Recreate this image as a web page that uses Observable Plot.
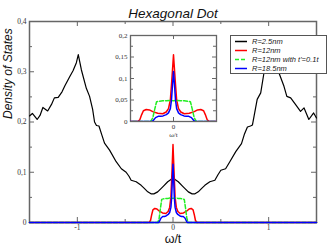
<!DOCTYPE html>
<html><head><meta charset="utf-8">
<script src="https://cdn.jsdelivr.net/npm/d3@7"></script>
<script src="https://cdn.jsdelivr.net/npm/@observablehq/plot@0.6"></script>
<style>
body{margin:0;background:#fff;}
#wrap{position:relative;width:327px;height:246px;overflow:hidden;background:#fff;}
#wrap > div, #wrap > svg{position:absolute;}
#legend{left:230px;top:35px;width:95px;height:37px;border:1px solid #555;background:#fff;font:italic 7.5px "Liberation Sans",Arial,sans-serif;color:#222;}
#legend .row{position:absolute;left:0;height:9px;line-height:9px;white-space:nowrap;}
#legend svg{position:absolute;left:3px;top:0;}
#legend span{position:absolute;left:21px;top:0;}
</style></head>
<body><div id="wrap"></div>
<script>
// ---- data ----
const blackW = [-1.5,-1.47,-1.42,-1.39,-1.36,-1.31,-1.27,-1.24,-1.2,-1.16,-1.13,-1.08,-1.045,-1.01,-0.99,-0.958,-0.906,-0.872,-0.84,-0.82,-0.8,-0.774,-0.745,-0.716,-0.663,-0.594,-0.54,-0.49,-0.46,-0.4375,-0.385,-0.333,-0.3,-0.264,-0.23,-0.2,-0.16,-0.107,-0.055,-0.025,0,
  0.025,0.055,0.107,0.16,0.2,0.23,0.264,0.3,0.333,0.385,0.4375,0.47,0.5,0.55,0.594,0.656,0.716,0.745,0.778,0.81,0.83,0.847,0.88,0.917,0.951,0.99,1.03,1.07,1.107,1.16,1.19,1.23,1.28,1.333,1.37,1.42,1.47,1.5];
const blackD = [0.212,0.217,0.205,0.213,0.229,0.222,0.235,0.248,0.249,0.26,0.272,0.29,0.302,0.318,0.334,0.304,0.267,0.251,0.225,0.2,0.193,0.192,0.175,0.158,0.144,0.121,0.107,0.1,0.092,0.084,0.081,0.074,0.068,0.061,0.057,0.057,0.061,0.071,0.081,0.085,0.089,
  0.085,0.081,0.071,0.061,0.057,0.057,0.061,0.068,0.074,0.081,0.084,0.095,0.104,0.107,0.121,0.141,0.157,0.175,0.19,0.192,0.194,0.211,0.245,0.258,0.298,0.325,0.33,0.32,0.298,0.271,0.251,0.248,0.235,0.221,0.228,0.205,0.218,0.208];
const redW = [-1.5,-0.25,-0.235,-0.222,-0.21,-0.19,-0.168,-0.145,-0.11,-0.075,-0.051,-0.035,-0.022,-0.012,-0.004,0,0.004,0.012,0.022,0.035,0.051,0.075,0.11,0.145,0.168,0.19,0.21,0.222,0.235,0.25,1.5];
const redD = [0,0,0.004,0.016,0.025,0.028,0.027,0.023,0.019,0.018,0.022,0.030,0.050,0.095,0.135,0.155,0.135,0.095,0.050,0.030,0.022,0.018,0.019,0.023,0.027,0.028,0.025,0.016,0.004,0,0];
const greenW = [-1.5,-0.16,-0.145,-0.13,-0.118,-0.1,-0.075,-0.05,-0.025,0,0.025,0.05,0.075,0.1,0.118,0.13,0.145,0.16,1.5];
const greenD = [0,0,0.008,0.03,0.046,0.047,0.048,0.048,0.049,0.048,0.049,0.048,0.048,0.047,0.046,0.03,0.008,0,0];
const blueW = [-1.5,-0.15,-0.14,-0.125,-0.107,-0.09,-0.073,-0.05,-0.035,-0.022,-0.014,-0.007,0,0.007,0.014,0.022,0.035,0.05,0.073,0.09,0.107,0.125,0.14,0.15,1.5];
const blueD = [0,0,0.003,0.009,0.012,0.012,0.013,0.016,0.020,0.030,0.050,0.085,0.116,0.085,0.050,0.030,0.020,0.016,0.013,0.012,0.012,0.009,0.003,0,0];

const seriesNames = ["R=2.5nm","R=12nm","R=12nm with t'=0.1t","R=18.5nm"];
const seriesColors = ["#000000","#ff0000","#22ee22","#0000ff"];

const mainXMajor = [-1,0,1];
const mainXMinor = [-0.5,0.5];
const mainYMajor = [0,0.1,0.2,0.3,0.4];
const mainYMinor = [0.05,0.15,0.25,0.35];
const insetX = [0];
const insetYMajor = [0,0.05,0.1,0.15,0.2];
const insetYMinor = [0.025,0.075,0.125,0.175];

const titleText = "Hexagonal Dot";
const yLabel = "Density of States";
const xLabel = "ω/t";

// ---- build ----
const mk = (W, D) => W.map((w, i) => ({w, d: D[i]}));
const series = [mk(blackW, blackD), mk(redW, redD), mk(greenW, greenD), mk(blueW, blueD)];
const fmt = d => String(d).replace(".", ",").replace("−", "-");
const frameC = "#666";

function lines(clip, from) {
  return series.map((s, i) => i < from ? null : Plot.line(s, {
    x: "w", y: "d", stroke: seriesColors[i],
    strokeWidth: i === 0 ? 1.2 : 1.5,
    strokeDasharray: i === 2 ? "4,2" : null,
    clip
  })).filter(Boolean);
}
function ticks(xs, ys, innerW, innerH, lenMaj, lenMin, xsMin, ysMin) {
  const o = {stroke: frameC, strokeWidth: 1};
  const m = [];
  const add = (arr, len) => {
    m.push(Plot.tickX(arr, {x: d => d, insetTop: innerH - len, ...o}));
    m.push(Plot.tickX(arr, {x: d => d, insetBottom: innerH - len, ...o}));
  };
  const addY = (arr, len) => {
    m.push(Plot.tickY(arr, {y: d => d, insetRight: innerW - len, ...o}));
    m.push(Plot.tickY(arr, {y: d => d, insetLeft: innerW - len, ...o}));
  };
  add(xs, lenMaj); if (xsMin) add(xsMin, lenMin);
  addY(ys, lenMaj); if (ysMin) addY(ysMin, lenMin);
  return m;
}

const mW = 327, mH = 246, mL = 29, mR = 11, mT = 21, mB = 24;
const main = Plot.plot({
  width: mW, height: mH,
  marginLeft: mL, marginRight: mR, marginTop: mT, marginBottom: mB,
  x: {domain: [-1.5, 1.5]},
  y: {domain: [0, 0.4]},
  style: {background: "transparent", fontFamily: "Liberation Serif, serif", fontSize: "7.5px", color: "#333", overflow: "visible"},
  marks: [
    Plot.axisX(mainXMajor, {tickSize: 0, tickPadding: 2, tickFormat: fmt, label: null}),
    Plot.axisY(mainYMajor, {tickSize: 0, tickPadding: 3, tickFormat: fmt, label: null}),
    ...ticks(mainXMajor, mainYMajor, mW - mL - mR, mH - mT - mB, 5, 3, mainXMinor, mainYMinor),
    Plot.frame({stroke: frameC, strokeWidth: 1.5}),
    ...lines(false, 0),
    Plot.text([titleText], {frameAnchor: "top", dy: -13, fontSize: 13.5, fontStyle: "italic", fontFamily: "Liberation Sans, Arial, sans-serif", fill: "#111"}),
    Plot.text([yLabel], {frameAnchor: "left", dx: -21, dy: -3, rotate: -90, fontSize: 12, fontStyle: "italic", fontFamily: "Liberation Sans, Arial, sans-serif", fill: "#111"}),
    Plot.text([xLabel], {frameAnchor: "bottom", dy: 20, fontSize: 12.5, fontFamily: "Liberation Sans, Arial, sans-serif", fill: "#111"})
  ]
});
main.style.left = "0px"; main.style.top = "0px";

const iW = 118, iH = 115, iL = 30, iR = 2, iT = 4, iB = 25;
const inset = Plot.plot({
  width: iW, height: iH,
  marginLeft: iL, marginRight: iR, marginTop: iT, marginBottom: iB,
  x: {domain: [-0.3, 0.3]},
  y: {domain: [0, 0.2]},
  style: {background: "transparent", fontFamily: "Liberation Serif, serif", fontSize: "7px", color: "#333", overflow: "visible"},
  marks: [
    Plot.axisX(insetX, {tickSize: 0, tickPadding: 3, tickFormat: fmt, label: null}),
    Plot.axisY(insetYMajor, {tickSize: 0, tickPadding: 3, tickFormat: fmt, label: null}),
    ...ticks(insetX, insetYMajor, iW - iL - iR, iH - iT - iB, 4, 3, null, insetYMinor),
    Plot.frame({stroke: frameC, strokeWidth: 1.3}),
    ...lines(true, 1),
    Plot.text([xLabel], {frameAnchor: "bottom", dy: 15, fontSize: 7, fontFamily: "Liberation Serif, serif", fill: "#333"})
  ]
});
inset.style.left = "100px"; inset.style.top = "31px";

const wrap = document.getElementById("wrap");
wrap.appendChild(main);
wrap.appendChild(inset);

// legend
const lg = document.createElement("div");
lg.id = "legend";
seriesNames.forEach((n, i) => {
  const row = document.createElement("div");
  row.className = "row";
  row.style.top = (1 + i * 9) + "px";
  row.style.width = "95px";
  row.innerHTML = `<svg width="14" height="9"><line x1="1" x2="13" y1="4.5" y2="4.5" stroke="${seriesColors[i]}" stroke-width="1.5" ${i === 2 ? 'stroke-dasharray="4,2"' : ''}/></svg><span></span>`;
  row.querySelector("span").textContent = n;
  lg.appendChild(row);
});
wrap.appendChild(lg);
</script></body></html>
